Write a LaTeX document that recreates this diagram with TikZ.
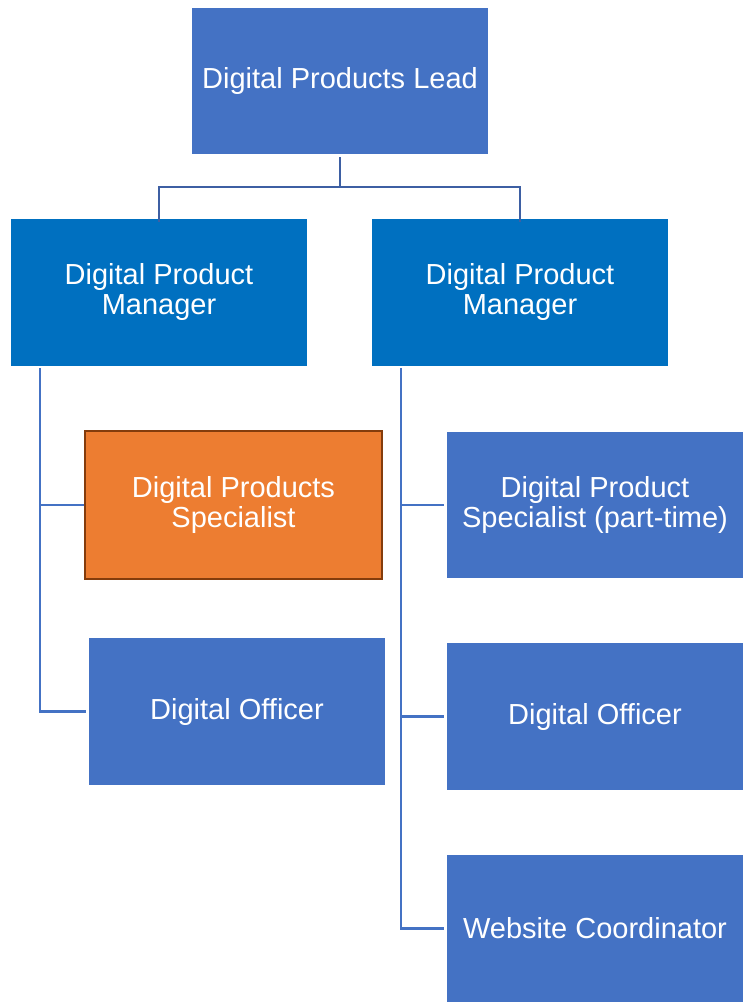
\documentclass[tikz,border=0pt]{standalone}
\usepackage{fontspec}
\setmainfont{Liberation Sans}
\definecolor{boxblue}{HTML}{4472C4}
\definecolor{mgrblue}{HTML}{0070C0}
\definecolor{orangefill}{HTML}{ED7D31}
\definecolor{orangeline}{HTML}{843C0C}
\definecolor{linkblue}{HTML}{4472C4}
\definecolor{toplink}{HTML}{3D5FA3}
\tikzset{
  orgbox/.style={rectangle, fill=boxblue, draw=none, inner sep=0pt, align=center,
    text=white, font=\fontsize{29}{30}\selectfont},
  mgrbox/.style={orgbox, fill=mgrblue},
  specbox/.style={orgbox, fill=orangefill, draw=orangeline, line width=2.5pt},
  link/.style={draw=linkblue, line width=2.2pt},
  toplinkstyle/.style={draw=toplink, line width=2.6pt},
}
\begin{document}
\begin{tikzpicture}[x=1pt,y=-1pt]
\useasboundingbox (0,0) rectangle (747,1008);
\fill[white] (0,0) rectangle (747,1008);

\node[orgbox, minimum width=296pt, minimum height=146pt] (lead) at (340,81) {Digital Products Lead};

\node[mgrbox, minimum width=296pt, minimum height=147pt] (mgrL) at (159,292.5) {Digital Product\\Manager};
\node[mgrbox, minimum width=296pt, minimum height=147pt] (mgrR) at (520,292.5) {Digital Product\\Manager};

\node[specbox, minimum width=297pt, minimum height=148pt] (spec) at (233.5,505) {Digital Products\\Specialist};
\node[orgbox, minimum width=296pt, minimum height=147pt] (offL) at (237,711.5) {Digital Officer};

\node[orgbox, minimum width=296pt, minimum height=146pt] (spec2) at (595,505) {Digital Product\\Specialist (part-time)};
\node[orgbox, minimum width=296pt, minimum height=147pt] (off2) at (595,716.5) {Digital Officer};
\node[orgbox, minimum width=296pt, minimum height=147pt] (web) at (595,928.5) {Website Coordinator};

% top connector
\coordinate (j) at (340,187);
\draw[toplinkstyle] (lead.south) ++(0,3) -- (j);
\draw[toplinkstyle] ([yshift=-3pt]mgrL.north) |- (j) -| ([yshift=-3pt]mgrR.north);

% left branch
\coordinate (lv) at (40,368);
\draw[link] (lv) |- ([xshift=-3pt]offL.west);
\draw[link] (lv |- spec.west) -- (spec.west);

% right branch
\coordinate (rv) at (401,368);
\draw[link] (rv) |- ([xshift=-3pt]web.west);
\draw[link] (rv |- spec2.west) -- ([xshift=-3pt]spec2.west);
\draw[link] (rv |- off2.west) -- ([xshift=-3pt]off2.west);
\end{tikzpicture}
\end{document}
